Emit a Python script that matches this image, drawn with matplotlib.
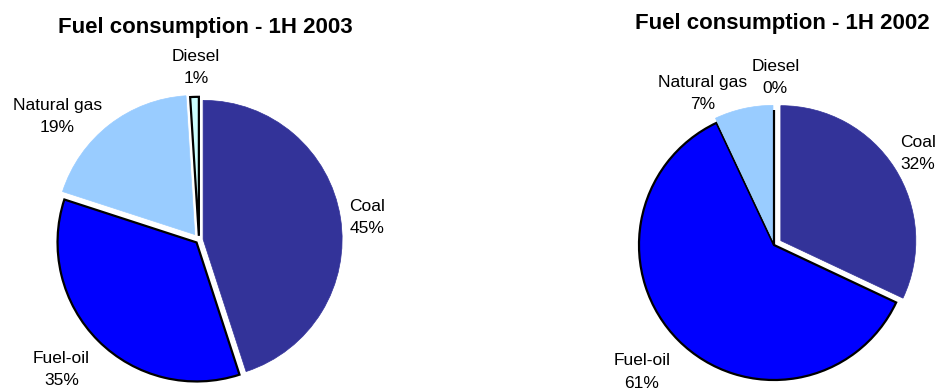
import matplotlib
matplotlib.use("Agg")
import matplotlib.pyplot as plt

plt.rcParams['font.family'] = ['Liberation Sans', 'DejaVu Sans']

fuels = ['Coal', 'Fuel-oil', 'Natural gas', 'Diesel']
colors = ['#333399', '#0000FF', '#99CCFF', '#CCFFFF']
edge_on = [False, True, False, True]

share_2003 = [45, 35, 19, 1]
share_2002 = [32, 61, 7, 0]

titles = ['Fuel consumption - 1H 2003', 'Fuel consumption - 1H 2002']

fig = plt.figure(figsize=(9.35, 3.88), dpi=100)
W, H = 935.0, 388.0


def pie_axes(cx, cy, r, lim=1.5):
    # square axes with the pie centre at pixel (cx, cy) measured from top-left
    side = 2 * lim * r
    return fig.add_axes([(cx - side / 2) / W, (H - cy - side / 2) / H, side / W, side / H])


def draw_pie(ax, shares, explode, label_xy):
    wedges, _ = ax.pie(shares, colors=colors, explode=explode, startangle=90,
                       counterclock=False, radius=1.0)
    for w, c, e in zip(wedges, colors, edge_on):
        if e:
            w.set_edgecolor('black')
            w.set_linewidth(1.6)
        else:
            w.set_edgecolor(c)
            w.set_linewidth(0.5)
    for name, val, (x, y) in zip(fuels, shares, label_xy):
        ax.text(x, y, f'{name}\n{val}%', ha='center', va='center',
                fontsize=12.5, linespacing=1.6, color='black')
    ax.set_xlim(-1.5, 1.5)
    ax.set_ylim(-1.5, 1.5)
    ax.set_aspect('equal')
    ax.axis('off')


ax1 = pie_axes(199, 240, 139)
draw_pie(ax1, share_2003, [0.03, 0.025, 0.05, 0.03],
         [(1.21, 0.16), (-0.99, -0.93), (-1.02, 0.89), (-0.02, 1.24)])

ax2 = pie_axes(774, 245, 135)
draw_pie(ax2, share_2002, [0.06, 0.0, 0.035, 0.0],
         [(1.065, 0.68), (-0.98, -0.94), (-0.53, 1.12), (0.01, 1.24)])

fig.text(205 / W, 1 - 28 / H, titles[0], ha='center', va='center',
         fontsize=16, fontweight='bold')
fig.text(782 / W, 1 - 24 / H, titles[1], ha='center', va='center',
         fontsize=16, fontweight='bold')

fig.savefig('out.png', dpi=100)
